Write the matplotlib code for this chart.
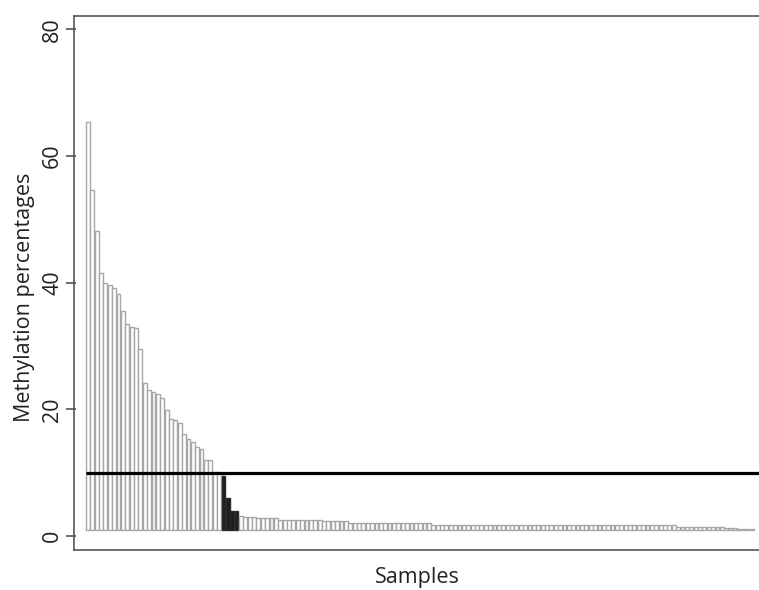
import numpy as np
import matplotlib
matplotlib.use("Agg")
import matplotlib.pyplot as plt

# methylation % per sample, sorted
high = [65.4, 54.7, 48.2, 41.6, 40.0, 39.6, 39.2, 38.2, 35.6, 33.4, 33.0, 32.8,
        29.5, 24.1, 23.1, 22.7, 22.4, 21.8, 19.9, 18.4, 18.3, 17.8, 16.1, 15.3,
        14.8, 14.1, 13.7, 12.0, 12.0, 10.1, 10.1]
dark = [9.5, 6.0, 3.9, 3.9]
low = ([3.1, 3.0, 3.0, 3.0, 2.9, 2.9, 2.9, 2.8, 2.8]
       + [2.6, 2.6, 2.6, 2.5, 2.5, 2.5, 2.5, 2.5, 2.5, 2.5]
       + [2.3] * 6
       + [2.1] * 19
       + [1.8] * 30 + [1.7] * 26
       + [1.5] * 11
       + [1.3] * 3
       + [1.1] * 4)
cutoff = 10
base = 1.0

vals = np.array(high + dark + low)
n = len(vals)
colors = ['white'] * len(high) + ['#1e1e1e'] * len(dark) + ['white'] * len(low)
edges = ['#a6a6a6'] * len(high) + ['#2a2a2a'] * len(dark) + ['#a6a6a6'] * len(low)

fig = plt.figure(figsize=(7.59, 5.90), dpi=100)
# plot box runs past the right edge of the canvas, as in the reference
ax = fig.add_axes([74/759, 40/590, 700/759, 534/590])
x = np.arange(n)
ax.bar(x, vals - base, bottom=base, width=0.88, align='edge',
       color=colors, edgecolor=edges, linewidth=1.0)
ax.plot([0, n + 20], [cutoff, cutoff], color='black', lw=2.3, solid_capstyle='butt')

ax.set_ylim(-2.21, 82.1)
ax.set_xlim(-2.74, -2.74 + 700/4.372)

for s in ax.spines.values():
    s.set_color('#555555')
    s.set_linewidth(1.2)
ax.spines['right'].set_visible(False)
ax.set_xticks([])
ax.set_yticks([])

# R-style offset y axis
ax2 = fig.add_axes([66/759, 40/590, 1e-4, 534/590], frameon=False)
ax2.set_ylim(-2.21, 82.1)
ax2.set_xticks([])
ax2.spines['left'].set_visible(True)
ax2.spines['left'].set_bounds(0, 80)
ax2.spines['left'].set_color('#555555')
ax2.spines['left'].set_linewidth(1.2)
ax2.set_yticks([0, 20, 40, 60, 80])
ax2.tick_params(axis='y', direction='in', length=7, width=1.2, color='#555555', pad=2)
for t in ax2.get_yticklabels():
    t.set_rotation(90)
    t.set_va('center')
    t.set_fontsize(15.5)
    t.set_family('Open Sans')
    t.set_color('#222222')

fig.text(25/759, 1 - 297/590, 'Methylation percentages', rotation=90, ha='center', va='center',
         fontsize=15.5, family='Open Sans', color='#222222')
fig.text(417/759, 1 - 578/590, 'Samples', ha='center', va='center',
         fontsize=15.5, family='Open Sans', color='#222222')

fig.savefig('out.png', dpi=100)
